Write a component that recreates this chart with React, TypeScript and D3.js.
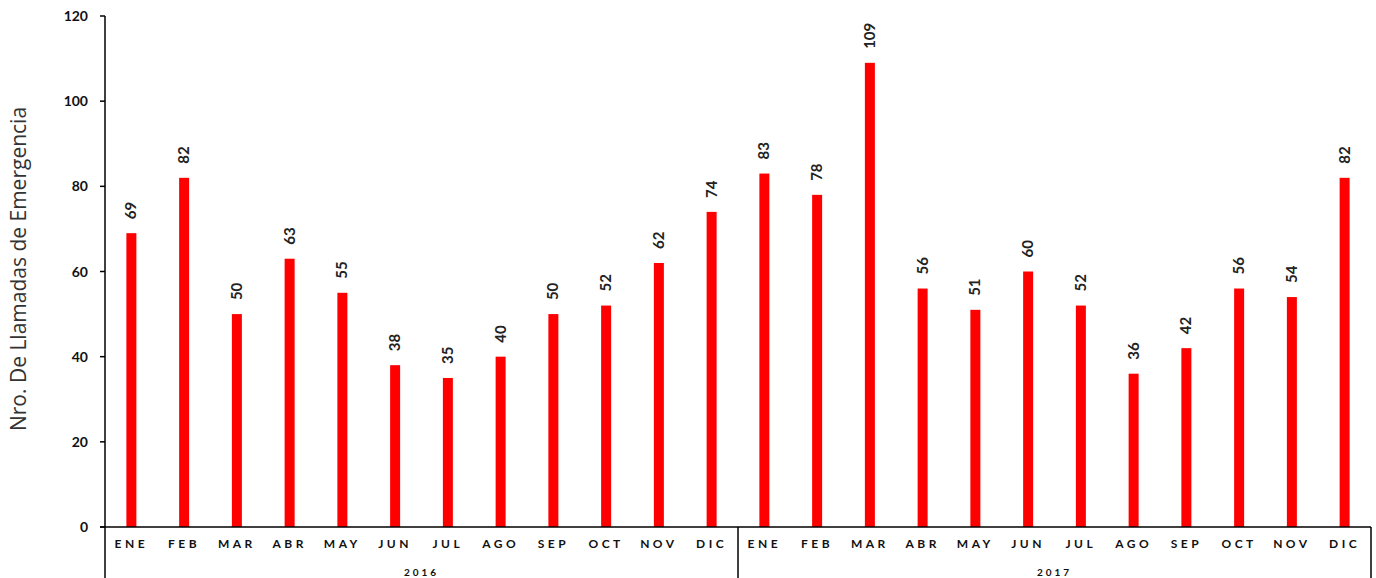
import React from "react";
import * as d3 from "d3";

const months = ["ENE","FEB","MAR","ABR","MAY","JUN","JUL","AGO","SEP","OCT","NOV","DIC"];
const years = ["2016","2017"];
const values2016 = [69,82,50,63,55,38,35,40,50,52,62,74];
const values2017 = [83,78,109,56,51,60,52,36,42,56,54,82];
const yTicks = [0,20,40,60,80,100,120];

export default function App() {
  const W = 1376, H = 578;
  const left = 105, right = 1371, top = 16, bottom = 527;
  const data = [
    ...values2016.map((v, i) => ({ key: `2016-${i}`, month: months[i], year: "2016", v })),
    ...values2017.map((v, i) => ({ key: `2017-${i}`, month: months[i], year: "2017", v })),
  ];
  const x = d3.scaleBand<string>().domain(data.map(d => d.key)).range([left, right]).padding(0);
  const y = d3.scaleLinear().domain([0, 120]).range([bottom, top]);
  const bw = 10;
  const font = "Lato, 'Open Sans', sans-serif";
  return (
    <svg width={W} height={H} style={{ position: "absolute", left: 0, top: 0 }}>
      <rect width={W} height={H} fill="#fff" />
      {data.map(d => {
        const cx = x(d.key)! + x.bandwidth() / 2;
        return (
          <g key={d.key}>
            <rect x={cx - bw / 2} y={y(d.v)} width={bw} height={bottom - y(d.v)} fill="#ff0000" />
            <text transform={`translate(${cx + 5},${y(d.v) - 14}) rotate(-90)`} fontFamily={font} fontWeight="bold" fontSize={15} fill="#222">{d.v}</text>
            <text x={cx} y={548} textAnchor="middle" fontFamily={font} fontWeight="bold" fontSize={12} letterSpacing={3.5} fill="#111">{d.month}</text>
          </g>
        );
      })}
      {/* y axis */}
      <line x1={left} x2={left} y1={top} y2={H} stroke="#000" strokeWidth={1.5} />
      {yTicks.map(t => (
        <g key={t}>
          <line x1={left - 5} x2={left} y1={y(t)} y2={y(t)} stroke="#000" strokeWidth={1.5} />
          <text x={88} y={y(t) + 5} textAnchor="end" fontFamily={font} fontWeight="bold" fontSize={14} fill="#111">{t}</text>
        </g>
      ))}
      {/* x axis */}
      <line x1={left - 5} x2={right} y1={bottom} y2={bottom} stroke="#000" strokeWidth={1.5} />
      {years.map((yr, i) => {
        const x0 = x(`${yr}-0`)!;
        const x1 = x(`${yr}-11`)! + x.bandwidth();
        return (
          <g key={yr}>
            <line x1={x1} x2={x1} y1={bottom} y2={H} stroke="#000" strokeWidth={1.5} />
            <text x={(x0 + x1) / 2} y={576} textAnchor="middle" fontFamily={font} fontWeight="bold" fontSize={10} letterSpacing={3} fill="#111">{yr}</text>
          </g>
        );
      })}
      <text transform={`translate(26,269) rotate(-90)`} textAnchor="middle" fontFamily="'Open Sans', sans-serif" fontSize={21} fill="#333">Nro. De Llamadas de Emergencia</text>
    </svg>
  );
}
